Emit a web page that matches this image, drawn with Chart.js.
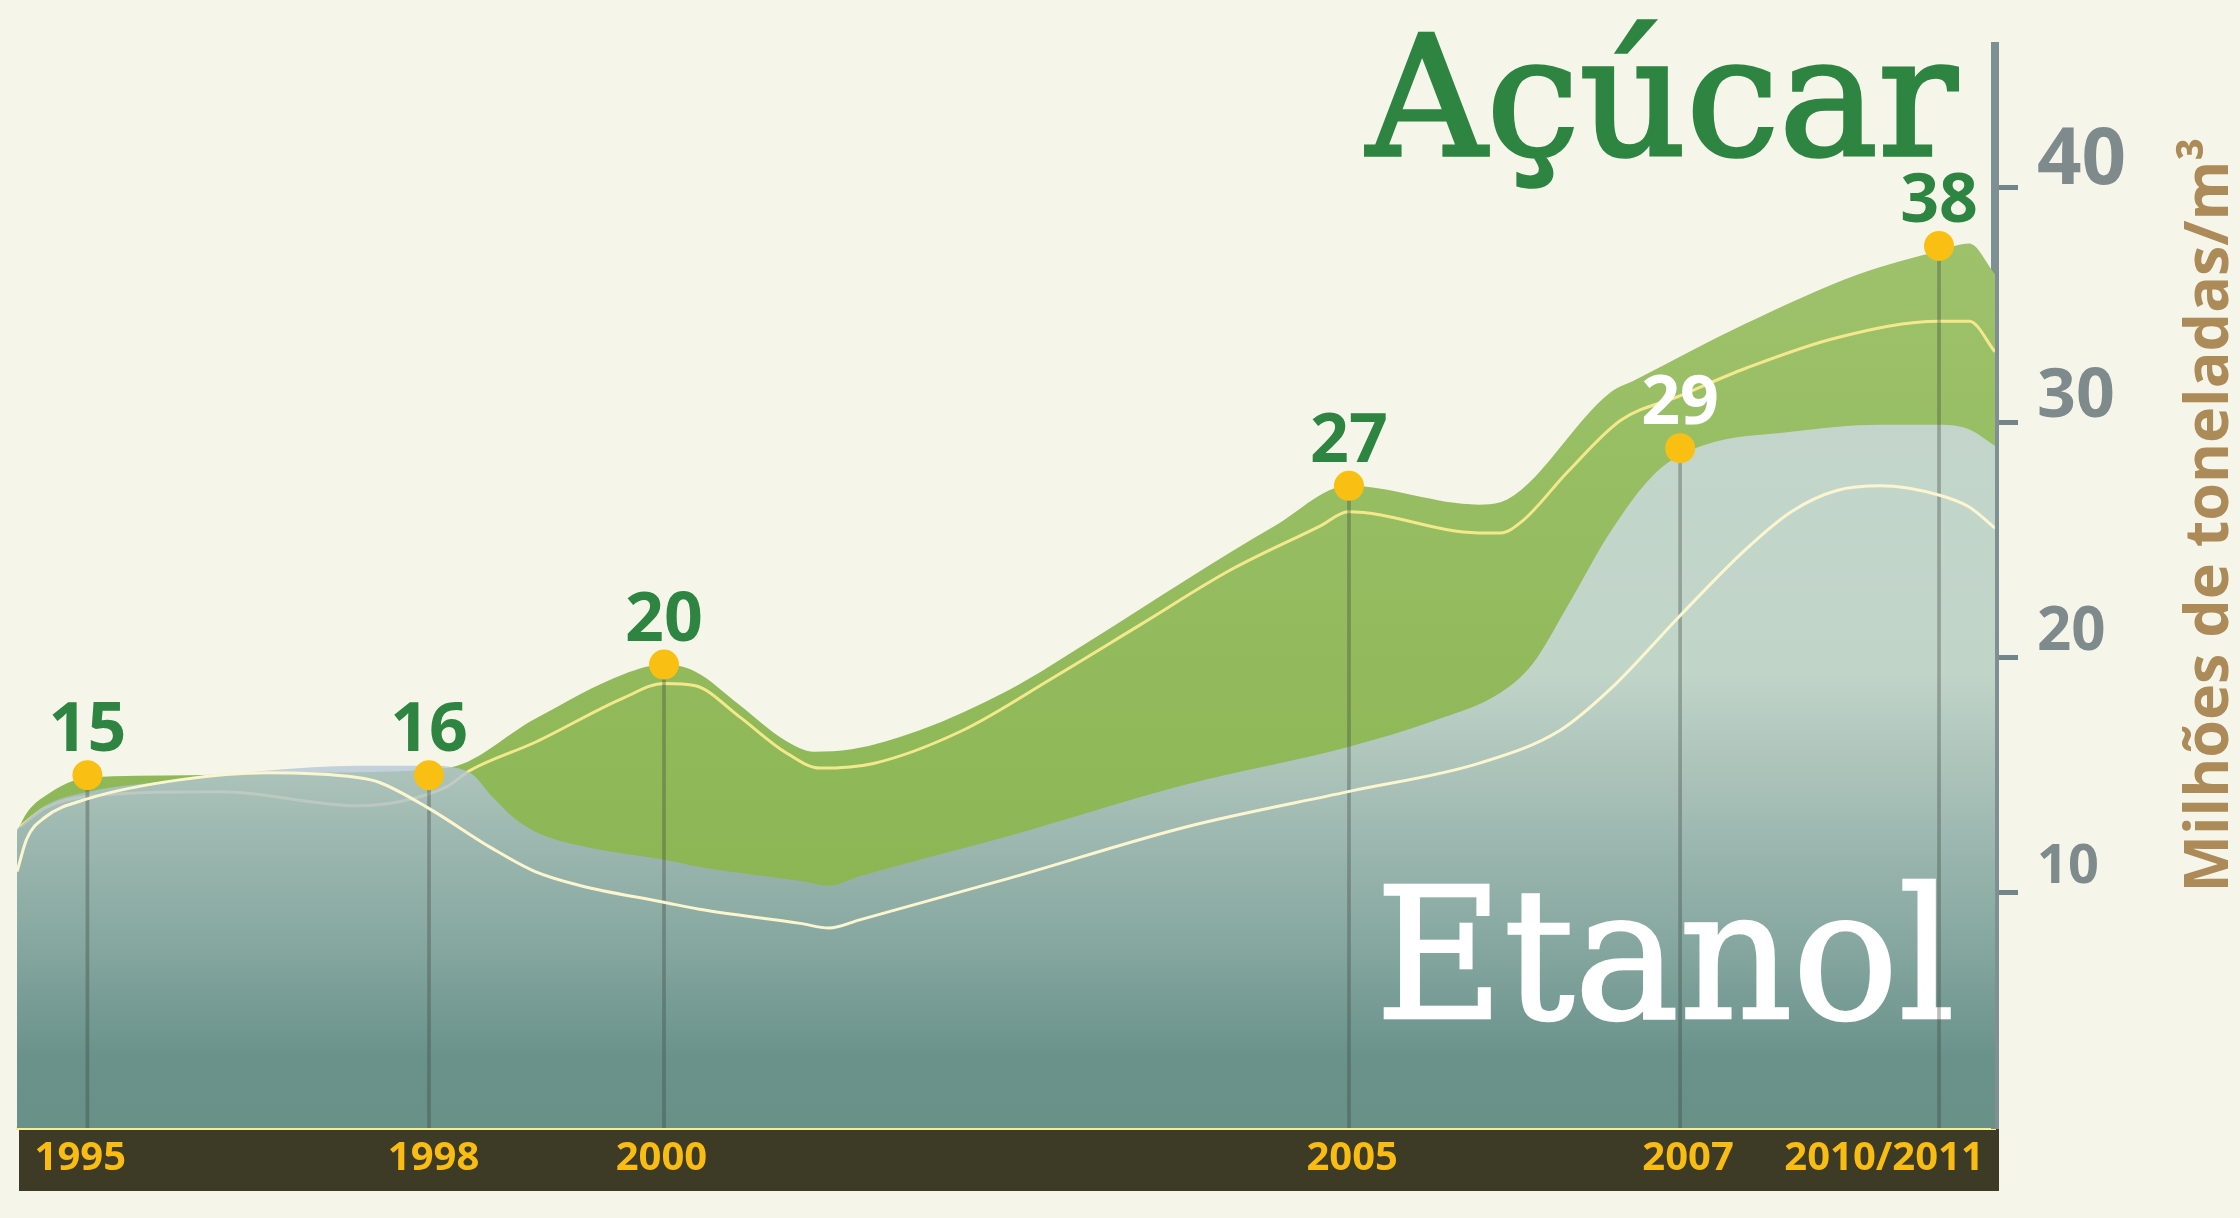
<!DOCTYPE html>
<html>
<head>
<meta charset="utf-8">
<script src="https://cdn.jsdelivr.net/npm/chart.js@4.4.1/dist/chart.umd.min.js"></script>
<style>
html,body{margin:0;padding:0;background:#f5f5ea;}
#wrap{width:2240px;height:1218px;position:relative;overflow:hidden;}
</style>
</head>
<body>
<div id="wrap"><canvas id="c"></canvas></div>
<script>
// ---------------- DATA ----------------
// Timeline (x axis runs 0..100 across the plot)
const timelineLabels = ['1995', '1998', '2000', '2005', '2007', '2010/2011'];
const labelPos      = [3.2, 21.06, 32.58, 67.5, 84.48, 94.39];   // where each year label sits
const markerPos     = [3.56, 20.83, 32.71, 67.34, 84.08, 97.17]; // where each marked year sits
const markerValues  = [15.0, 15.0, 19.7, 27.3, 28.9, 37.5];      // plotted height of the markers
const printedValues = ['15', '16', '20', '27', '29', '38'];      // values written above markers

// Açúcar (sugar) outline
const acucarX = [0, 0.5, 1.4, 3.6, 8.6, 14.3, 21.7, 26.2, 30.7, 32.7, 34.3, 36.5, 38.8, 40.3, 42.2, 45.6, 50.1, 54.6, 59.1, 63.6, 67.3, 73.9, 75.0, 80.6, 81.8, 87.4, 93.1, 97.2, 98.7, 100];
const acucarY = [12.6, 13.4, 14.1, 14.9, 15.0, 15.1, 15.3, 17.4, 19.3, 19.7, 19.4, 18.0, 16.5, 16.0, 16.1, 16.9, 18.6, 20.9, 23.3, 25.6, 27.3, 26.5, 26.6, 31.3, 31.8, 34.2, 36.3, 37.3, 37.6, 36.3];

// Açúcar inner line
const acucarLineX = [0.15, 1.4, 3.6, 10.4, 17.2, 19.5, 21.7, 22.9, 26.2, 30.7, 32.7, 34.3, 36.5, 38.8, 40.6, 43.3, 47.8, 52.3, 56.8, 61.3, 65.9, 67.3, 73.9, 75.0, 76.1, 78.4, 81.1, 84.0, 87.4, 92.0, 97.2, 98.7, 100];
const acucarLineY = [12.8, 13.6, 14.1, 14.3, 13.7, 13.9, 14.5, 15.2, 16.4, 18.3, 18.9, 18.8, 17.5, 16.0, 15.3, 15.5, 16.9, 19.1, 21.4, 23.7, 25.6, 26.2, 25.3, 25.3, 25.8, 27.9, 30.1, 31.1, 32.3, 33.6, 34.3, 34.3, 33.0];

// Etanol outline
const etanolX = [0, 1.4, 3.6, 8.2, 12.7, 17.2, 20.8, 22.9, 24.0, 25.1, 26.2, 28.5, 32.7, 34.5, 39.6, 41.05, 42.6, 50.1, 59.1, 67.3, 71.6, 75.0, 76.6, 78.4, 80.6, 82.9, 85.2, 89.7, 94.2, 97.2, 98.7, 100];
const etanolY = [12.7, 13.7, 14.3, 14.8, 15.2, 15.4, 15.4, 15.1, 14.1, 13.2, 12.6, 12.0, 11.4, 11.1, 10.5, 10.3, 10.7, 12.4, 14.6, 16.2, 17.3, 18.5, 19.7, 22.2, 25.4, 27.9, 29.0, 29.6, 29.9, 29.9, 29.7, 29.0];

// Etanol inner line
const etanolLineX = [0, 0.5, 1.4, 3.6, 8.2, 12.7, 17.2, 18.3, 20.8, 24.0, 26.2, 28.5, 32.7, 34.5, 39.6, 41.05, 42.6, 50.1, 59.1, 67.3, 73.9, 78.0, 80.6, 84.1, 87.4, 89.7, 92.0, 94.2, 97.2, 98.7, 100];
const etanolLineY = [10.9, 12.3, 13.2, 14.0, 14.8, 15.1, 14.9, 14.7, 13.6, 11.9, 10.9, 10.3, 9.6, 9.3, 8.7, 8.5, 8.85, 10.6, 12.8, 14.3, 15.5, 16.9, 18.7, 21.8, 24.6, 26.2, 27.1, 27.3, 26.9, 26.4, 25.5];

// Value axis
const yTicks = [10, 20, 30, 40];
const yMax = 46;
const yTitle = 'Milhões de toneladas/m³';
const titleSugar = 'Açúcar';
const titleEthanol = 'Etanol';

// ---------------- BUILD ----------------
const pairs = (xs, ys) => xs.map((x, i) => ({x: x, y: ys[i]}));

const tickFontSize = {10: 54, 20: 60, 30: 68, 40: 78};
const labelColor = (i) => (i === 4 ? '#ffffff' : '#2e8441');

function gradientFor(chart, stops) {
  const {ctx, chartArea, scales} = chart;
  if (!chartArea) return 'rgba(0,0,0,0)';
  const y = scales.y;
  const y0 = y.getPixelForValue(0), y1 = y.getPixelForValue(yMax);
  const g = ctx.createLinearGradient(0, y0, 0, y1);
  stops.forEach(s => g.addColorStop(Math.min(1, Math.max(0, s[0] / yMax)), s[1]));
  return g;
}

// draws a slab-serif title, right aligned, fitted to a given width, slightly emboldened
function drawTitle(ctx, text, rightX, baseY, size, width, color, bold) {
  ctx.save();
  ctx.font = size + 'px "DejaVu Serif"';
  const w = ctx.measureText(text).width;
  const sx = width / (w + bold);
  ctx.translate(rightX, baseY);
  ctx.scale(sx, 1);
  ctx.textAlign = 'right';
  ctx.textBaseline = 'alphabetic';
  ctx.fillStyle = color;
  ctx.strokeStyle = color;
  ctx.lineWidth = bold;
  ctx.lineJoin = 'miter';
  ctx.fillText(text, -bold / 2, 0);
  ctx.strokeText(text, -bold / 2, 0);
  ctx.restore();
}

const decorPlugin = {
  id: 'decor',
  beforeDraw(chart) {
    const {ctx, chartArea: a} = chart;
    ctx.save();
    ctx.fillStyle = '#f5f5ea';
    ctx.fillRect(0, 0, chart.width, chart.height);
    ctx.fillStyle = '#3d3a26';
    ctx.fillRect(a.left + 2, a.bottom + 1, a.right - a.left + 2, 62);
    ctx.restore();
  },
  beforeDatasetsDraw(chart) {
    const {ctx, chartArea: a} = chart;
    drawTitle(ctx, titleSugar, a.right - 36, 155, 166, 594, '#2e8441', 3.5);
  },
  afterDatasetDraw(chart, args) {
    if (args.index !== 3) return;
    const {ctx, chartArea: a} = chart;
    drawTitle(ctx, titleEthanol, a.right - 39, 1018, 182, 582, '#ffffff', 2.5);
  },
  afterDatasetsDraw(chart) {
    const {ctx} = chart;
    const meta = chart.getDatasetMeta(0);
    ctx.save();
    ctx.font = 'bold 68px "Open Sans"';
    ctx.textAlign = 'center';
    ctx.textBaseline = 'alphabetic';
    meta.data.forEach((pt, i) => {
      ctx.fillStyle = labelColor(i);
      ctx.fillText(printedValues[i], pt.x, pt.y - 24);
    });
    ctx.restore();
    // vertical axis title (reads bottom to top)
    ctx.save();
    ctx.translate(2228, 515);
    ctx.rotate(-Math.PI / 2);
    ctx.font = 'bold 61px "Open Sans"';
    ctx.fillStyle = '#ad8b59';
    ctx.textAlign = 'center';
    ctx.textBaseline = 'alphabetic';
    ctx.fillText(yTitle, 0, 0);
    ctx.restore();
  }
};

const cfg = {
  type: 'line',
  data: {
    datasets: [
      { // 0 markers
        type: 'scatter',
        data: pairs(markerPos, markerValues),
        pointRadius: 15, pointHoverRadius: 15,
        pointBackgroundColor: '#f9c013', pointBorderWidth: 0, borderColor: 'transparent',
        showLine: false, order: 0
      },
      { // 1 etanol inner line
        data: pairs(etanolLineX, etanolLineY),
        borderColor: '#fbf6cf', borderWidth: 3, pointRadius: 0, fill: false,
        cubicInterpolationMode: 'monotone', order: 1
      },
      { // 2 drop lines
        type: 'bar',
        data: pairs(markerPos, markerValues),
        backgroundColor: 'rgba(55,65,55,0.34)', barThickness: 3, borderWidth: 0, order: 2
      },
      { // 3 etanol area
        data: pairs(etanolX, etanolY),
        borderColor: 'transparent', borderWidth: 0, pointRadius: 0,
        fill: 'origin',
        backgroundColor: (c) => gradientFor(c.chart, [
          [0, 'rgba(94,134,150,0.78)'], [3, 'rgba(96,136,155,0.78)'], [8, 'rgba(133,164,182,0.78)'],
          [14, 'rgba(172,192,209,0.78)'], [19.5, 'rgba(207,220,231,0.78)'], [46, 'rgba(207,220,231,0.78)']
        ]),
        cubicInterpolationMode: 'monotone', order: 3
      },
      { // 4 açúcar inner line
        data: pairs(acucarLineX, acucarLineY),
        borderColor: '#f3e98c', borderWidth: 3, pointRadius: 0, fill: false,
        cubicInterpolationMode: 'monotone', order: 4
      },
      { // 5 açúcar area
        data: pairs(acucarX, acucarY),
        borderColor: 'transparent', borderWidth: 0, pointRadius: 0,
        fill: 'origin',
        backgroundColor: (c) => gradientFor(c.chart, [
          [10, 'rgb(140,182,84)'], [38, 'rgb(158,194,108)']
        ]),
        cubicInterpolationMode: 'monotone', order: 5
      }
    ]
  },
  options: {
    responsive: true,
    maintainAspectRatio: false,
    devicePixelRatio: 1,
    animation: false,
    events: [],
    layout: { padding: { left: 17, top: 46, right: 0, bottom: 0 } },
    plugins: { legend: { display: false }, tooltip: { enabled: false } },
    scales: {
      x: {
        type: 'linear', min: 0, max: 100, offset: false,
        afterBuildTicks: (s) => { s.ticks = labelPos.map(v => ({value: v})); },
        afterFit: (s) => { s.height = 90; s.paddingLeft = 0; s.paddingRight = 0; },
        ticks: {
          autoSkip: false, maxRotation: 0, minRotation: 0, padding: 7,
          color: '#f8bc12',
          font: { family: 'Open Sans', weight: 'bold', size: 40 },
          callback: (v, i) => timelineLabels[i]
        },
        grid: { display: false, drawTicks: false },
        border: { display: true, color: '#f4ee9c', width: 3 }
      },
      y: {
        type: 'linear', position: 'right', min: 0, max: yMax, z: 1,
        afterBuildTicks: (s) => { s.ticks = yTicks.map(v => ({value: v})); },
        afterFit: (s) => { s.width = 245; s.paddingTop = 0; s.paddingBottom = 0; },
        ticks: {
          padding: 19, labelOffset: -25, color: '#7f8a8d',
          font: (ctx) => ({ family: 'Open Sans', weight: 'bold', size: ctx.tick ? (tickFontSize[ctx.tick.value] || 60) : 60 }),
          callback: (v) => String(v)
        },
        grid: { display: true, drawOnChartArea: false, drawTicks: true, tickLength: 23, tickWidth: 5, tickColor: '#71858b' },
        border: { display: true, color: 'rgba(80,105,115,0.72)', width: 8 }
      }
    }
  },
  plugins: [decorPlugin]
};

new Chart(document.getElementById('c'), cfg);
</script>
</body>
</html>
